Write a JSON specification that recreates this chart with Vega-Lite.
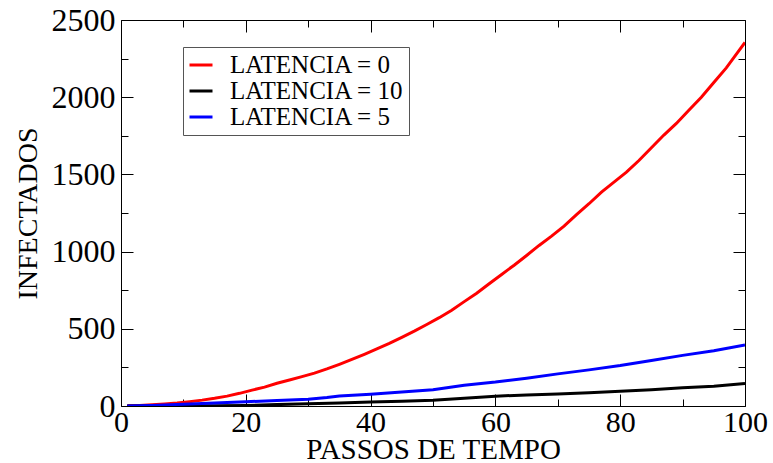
{
  "$schema": "https://vega.github.io/schema/vega-lite/v6.json",
  "width": 624,
  "height": 386,
  "autosize": {"type": "none"},
  "padding": {"left": 121, "top": 20, "right": 28, "bottom": 57},
  "background": "white",
  "config": {
    "view": {"stroke": null},
    "font": "Liberation Serif",
    "legend": {"labelFont": "Liberation Serif"},
    "axis": {
      "grid": false,
      "domainColor": "black",
      "domainWidth": 1,
      "tickColor": "black",
      "tickWidth": 1,
      "labelFont": "Liberation Serif",
      "labelColor": "black",
      "titleFont": "Liberation Serif",
      "titleColor": "black",
      "titleFontWeight": "normal",
      "labelFlush": false,
      "labelOverlap": false,
      "labelBound": false
    }
  },
  "data": {
    "values": [
      {"t": 1, "v": 1, "s": "LATENCIA = 0"},
      {"t": 3, "v": 4, "s": "LATENCIA = 0"},
      {"t": 5, "v": 8, "s": "LATENCIA = 0"},
      {"t": 7, "v": 13, "s": "LATENCIA = 0"},
      {"t": 9, "v": 19, "s": "LATENCIA = 0"},
      {"t": 11, "v": 28, "s": "LATENCIA = 0"},
      {"t": 13, "v": 38, "s": "LATENCIA = 0"},
      {"t": 15, "v": 50, "s": "LATENCIA = 0"},
      {"t": 17, "v": 64, "s": "LATENCIA = 0"},
      {"t": 19, "v": 82, "s": "LATENCIA = 0"},
      {"t": 21, "v": 103, "s": "LATENCIA = 0"},
      {"t": 23, "v": 122, "s": "LATENCIA = 0"},
      {"t": 25, "v": 147, "s": "LATENCIA = 0"},
      {"t": 27, "v": 168, "s": "LATENCIA = 0"},
      {"t": 29, "v": 190, "s": "LATENCIA = 0"},
      {"t": 31, "v": 213, "s": "LATENCIA = 0"},
      {"t": 33, "v": 240, "s": "LATENCIA = 0"},
      {"t": 35, "v": 270, "s": "LATENCIA = 0"},
      {"t": 37, "v": 302, "s": "LATENCIA = 0"},
      {"t": 39, "v": 335, "s": "LATENCIA = 0"},
      {"t": 41, "v": 370, "s": "LATENCIA = 0"},
      {"t": 43, "v": 405, "s": "LATENCIA = 0"},
      {"t": 45, "v": 445, "s": "LATENCIA = 0"},
      {"t": 47, "v": 485, "s": "LATENCIA = 0"},
      {"t": 49, "v": 528, "s": "LATENCIA = 0"},
      {"t": 51, "v": 572, "s": "LATENCIA = 0"},
      {"t": 53, "v": 620, "s": "LATENCIA = 0"},
      {"t": 55, "v": 676, "s": "LATENCIA = 0"},
      {"t": 57, "v": 730, "s": "LATENCIA = 0"},
      {"t": 59, "v": 792, "s": "LATENCIA = 0"},
      {"t": 61, "v": 852, "s": "LATENCIA = 0"},
      {"t": 63, "v": 912, "s": "LATENCIA = 0"},
      {"t": 65, "v": 975, "s": "LATENCIA = 0"},
      {"t": 67, "v": 1040, "s": "LATENCIA = 0"},
      {"t": 69, "v": 1100, "s": "LATENCIA = 0"},
      {"t": 71, "v": 1165, "s": "LATENCIA = 0"},
      {"t": 73, "v": 1240, "s": "LATENCIA = 0"},
      {"t": 75, "v": 1310, "s": "LATENCIA = 0"},
      {"t": 77, "v": 1385, "s": "LATENCIA = 0"},
      {"t": 79, "v": 1450, "s": "LATENCIA = 0"},
      {"t": 81, "v": 1515, "s": "LATENCIA = 0"},
      {"t": 83, "v": 1590, "s": "LATENCIA = 0"},
      {"t": 85, "v": 1673, "s": "LATENCIA = 0"},
      {"t": 87, "v": 1755, "s": "LATENCIA = 0"},
      {"t": 89, "v": 1830, "s": "LATENCIA = 0"},
      {"t": 91, "v": 1915, "s": "LATENCIA = 0"},
      {"t": 93, "v": 2000, "s": "LATENCIA = 0"},
      {"t": 95, "v": 2095, "s": "LATENCIA = 0"},
      {"t": 97, "v": 2190, "s": "LATENCIA = 0"},
      {"t": 99, "v": 2300, "s": "LATENCIA = 0"},
      {"t": 100, "v": 2355, "s": "LATENCIA = 0"},

      {"t": 1, "v": 0, "s": "LATENCIA = 10"},
      {"t": 10, "v": 1, "s": "LATENCIA = 10"},
      {"t": 15, "v": 2, "s": "LATENCIA = 10"},
      {"t": 20, "v": 4, "s": "LATENCIA = 10"},
      {"t": 25, "v": 9, "s": "LATENCIA = 10"},
      {"t": 30, "v": 15, "s": "LATENCIA = 10"},
      {"t": 35, "v": 20, "s": "LATENCIA = 10"},
      {"t": 40, "v": 26, "s": "LATENCIA = 10"},
      {"t": 45, "v": 31, "s": "LATENCIA = 10"},
      {"t": 50, "v": 38, "s": "LATENCIA = 10"},
      {"t": 55, "v": 50, "s": "LATENCIA = 10"},
      {"t": 60, "v": 63, "s": "LATENCIA = 10"},
      {"t": 65, "v": 72, "s": "LATENCIA = 10"},
      {"t": 70, "v": 77, "s": "LATENCIA = 10"},
      {"t": 75, "v": 86, "s": "LATENCIA = 10"},
      {"t": 80, "v": 95, "s": "LATENCIA = 10"},
      {"t": 85, "v": 105, "s": "LATENCIA = 10"},
      {"t": 90, "v": 118, "s": "LATENCIA = 10"},
      {"t": 95, "v": 128, "s": "LATENCIA = 10"},
      {"t": 100, "v": 145, "s": "LATENCIA = 10"},

      {"t": 1, "v": 0, "s": "LATENCIA = 5"},
      {"t": 5, "v": 4, "s": "LATENCIA = 5"},
      {"t": 10, "v": 12, "s": "LATENCIA = 5"},
      {"t": 15, "v": 19, "s": "LATENCIA = 5"},
      {"t": 20, "v": 28, "s": "LATENCIA = 5"},
      {"t": 25, "v": 35, "s": "LATENCIA = 5"},
      {"t": 30, "v": 43, "s": "LATENCIA = 5"},
      {"t": 33, "v": 55, "s": "LATENCIA = 5"},
      {"t": 35, "v": 65, "s": "LATENCIA = 5"},
      {"t": 40, "v": 76, "s": "LATENCIA = 5"},
      {"t": 45, "v": 90, "s": "LATENCIA = 5"},
      {"t": 50, "v": 106, "s": "LATENCIA = 5"},
      {"t": 55, "v": 135, "s": "LATENCIA = 5"},
      {"t": 60, "v": 155, "s": "LATENCIA = 5"},
      {"t": 65, "v": 180, "s": "LATENCIA = 5"},
      {"t": 70, "v": 208, "s": "LATENCIA = 5"},
      {"t": 75, "v": 234, "s": "LATENCIA = 5"},
      {"t": 80, "v": 262, "s": "LATENCIA = 5"},
      {"t": 85, "v": 295, "s": "LATENCIA = 5"},
      {"t": 90, "v": 328, "s": "LATENCIA = 5"},
      {"t": 95, "v": 358, "s": "LATENCIA = 5"},
      {"t": 100, "v": 395, "s": "LATENCIA = 5"}
    ]
  },
  "layer": [
    {
      "mark": {"type": "line", "strokeWidth": 3, "clip": true},
      "encoding": {
        "x": {
          "field": "t", "type": "quantitative",
          "scale": {"domain": [0, 100], "nice": false, "zero": false},
          "axis": {
            "orient": "bottom",
            "values": [0, 10, 20, 30, 40, 50, 60, 70, 80, 90, 100],
            "labelExpr": "datum.value % 20 === 0 ? datum.label : ''",
            "format": "d",
            "tickSize": {"condition": {"test": "datum.value % 20 === 0", "value": -12}, "value": -7},
            "labelPadding": 13,
            "labelFontSize": 30,
            "title": "PASSOS DE TEMPO",
            "titleFontSize": 29,
            "titleBaseline": "alphabetic",
            "titleY": 52
          }
        },
        "y": {
          "field": "v", "type": "quantitative",
          "scale": {"domain": [0, 2500], "nice": false, "zero": false},
          "axis": {
            "orient": "left",
            "values": [0, 250, 500, 750, 1000, 1250, 1500, 1750, 2000, 2250, 2500],
            "labelExpr": "datum.value % 500 === 0 ? datum.label : ''",
            "format": "d",
            "tickSize": {"condition": {"test": "datum.value % 500 === 0", "value": -12}, "value": -7},
            "labelPadding": 18,
            "labelFontSize": 32,
            "title": "INFECTADOS",
            "titleFontSize": 28,
            "titleBaseline": "alphabetic",
            "titleX": -85
          }
        },
        "color": {
          "field": "s", "type": "nominal",
          "scale": {
            "domain": ["LATENCIA = 0", "LATENCIA = 10", "LATENCIA = 5"],
            "range": ["#ff0000", "#000000", "#0000ff"]
          },
          "legend": {
            "orient": "none",
            "legendX": 62,
            "legendY": 27,
            "title": null,
            "symbolType": "stroke",
            "symbolSize": 529,
            "symbolStrokeWidth": 3,
            "labelFont": "Liberation Serif",
            "labelFontSize": 25,
            "labelLimit": 0,
            "labelColor": "black",
            "labelOffset": 16,
            "rowPadding": 0,
            "padding": 5,
            "strokeColor": "#555555",
            "fillColor": "white"
          }
        }
      }
    },
    {
      "mark": {"type": "line", "strokeOpacity": 0},
      "encoding": {
        "x": {
          "field": "t", "type": "quantitative",
          "scale": {"domain": [0, 100], "nice": false, "zero": false},
          "axis": {
            "orient": "top",
            "values": [0, 10, 20, 30, 40, 50, 60, 70, 80, 90, 100],
            "labels": false,
            "title": null,
            "tickSize": {"condition": {"test": "datum.value % 20 === 0", "value": -12}, "value": -7}
          }
        },
        "y": {
          "field": "v", "type": "quantitative",
          "scale": {"domain": [0, 2500], "nice": false, "zero": false},
          "axis": {
            "orient": "right",
            "values": [0, 250, 500, 750, 1000, 1250, 1500, 1750, 2000, 2250, 2500],
            "labels": false,
            "title": null,
            "tickSize": {"condition": {"test": "datum.value % 500 === 0", "value": -12}, "value": -7}
          }
        },
        "detail": {"field": "s", "type": "nominal"}
      }
    }
  ],
  "resolve": {"axis": {"x": "independent", "y": "independent"}}
}
